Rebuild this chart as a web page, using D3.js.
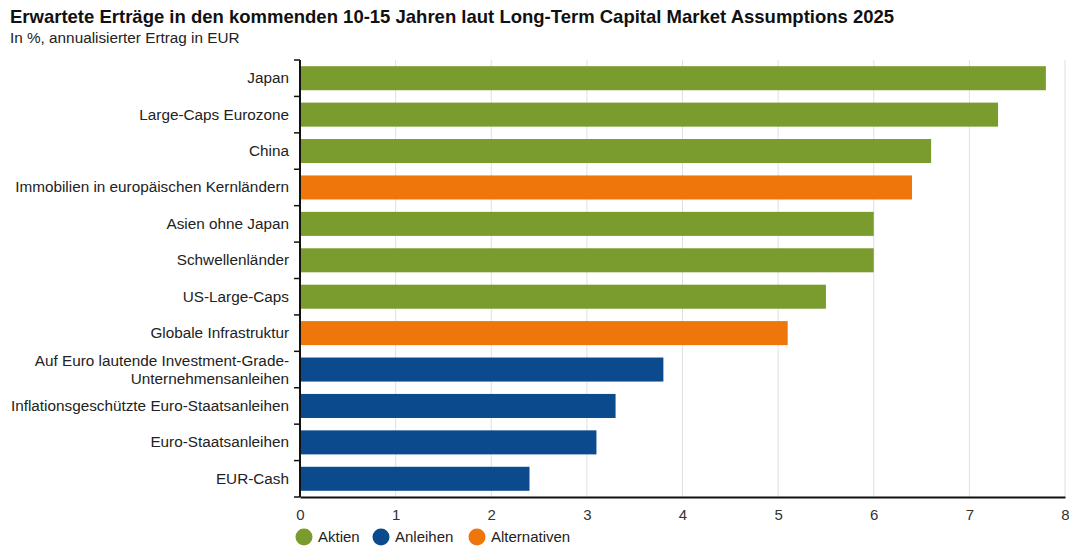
<!DOCTYPE html>
<html>
<head>
<meta charset="utf-8">
<script src="https://cdn.jsdelivr.net/npm/d3@7"></script>
<style>
  body { margin: 0; background: #fff; }
  svg text { font-family: "Liberation Sans", Arial, sans-serif; }
</style>
</head>
<body>
<div id="chart"></div>
<script>
// Data
const categories = [
    "Japan",
    "Large-Caps Eurozone",
    "China",
    "Immobilien in europäischen Kernländern",
    "Asien ohne Japan",
    "Schwellenländer",
    "US-Large-Caps",
    "Globale Infrastruktur",
    "Auf Euro lautende Investment-Grade-\nUnternehmensanleihen",
    "Inflationsgeschützte Euro-Staatsanleihen",
    "Euro-Staatsanleihen",
    "EUR-Cash"
];
const values = [7.8, 7.3, 6.6, 6.4, 6.0, 6.0, 5.5, 5.1, 3.8, 3.3, 3.1, 2.4];
const groups = ["Aktien", "Aktien", "Aktien", "Alternativen", "Aktien", "Aktien", "Aktien",
    "Alternativen", "Anleihen", "Anleihen", "Anleihen", "Anleihen"];
const legendItems = ["Aktien", "Anleihen", "Alternativen"];
const xTicks = [0, 1, 2, 3, 4, 5, 6, 7, 8];

const width = 1069;
const height = 548;
const margin = { top: 60, right: 4, bottom: 51, left: 300 }; // plot area

const color = d3.scaleOrdinal()
    .domain(legendItems)
    .range(["#7a9c2e", "#0b4a8d", "#ee760b"]);

const svg = d3.select("#chart")
    .append("svg")
    .attr("width", width)
    .attr("height", height);

// Title + subtitle
svg.append("text")
    .attr("x", 10).attr("y", 23)
    .attr("font-size", "18.5px")
    .attr("font-weight", "bold")
    .attr("fill", "#111")
    .text("Erwartete Erträge in den kommenden 10-15 Jahren laut Long-Term Capital Market Assumptions 2025");

svg.append("text")
    .attr("x", 10).attr("y", 43)
    .attr("font-size", "15.3px")
    .attr("fill", "#222")
    .text("In %, annualisierter Ertrag in EUR");

// Scales
const xScale = d3.scaleLinear()
    .domain([0, 8])
    .range([margin.left, width - margin.right]);

const yScale = d3.scaleBand()
    .domain(categories)
    .range([margin.top, height - margin.bottom])
    .paddingInner(0.34)
    .paddingOuter(0.17);

const yBottom = height - margin.bottom;

// Grid lines
svg.append("g")
    .selectAll("line")
    .data(xTicks.slice(1))
    .join("line")
    .attr("x1", (d) => xScale(d))
    .attr("x2", (d) => xScale(d))
    .attr("y1", margin.top)
    .attr("y2", yBottom)
    .attr("stroke", "#e0e0e0")
    .attr("stroke-width", 1);

// Bars
svg.selectAll(".bar")
    .data(categories)
    .join("rect")
    .attr("class", "bar")
    .attr("x", xScale(0))
    .attr("y", (d) => yScale(d))
    .attr("width", (d, i) => xScale(values[i]) - xScale(0))
    .attr("height", yScale.bandwidth())
    .attr("fill", (d, i) => color(groups[i]));

// X axis
const xAxis = svg.append("g")
    .attr("transform", `translate(0,${yBottom})`)
    .call(d3.axisBottom(xScale).tickValues(xTicks).tickSize(0).tickPadding(12));
xAxis.select(".domain").attr("stroke", "#111").attr("stroke-width", 2);
xAxis.selectAll("text")
    .attr("font-size", "15px")
    .attr("fill", "#333")
    .style("font-family", '"Liberation Sans", Arial, sans-serif');

// Y axis: line + ticks at band boundaries
const step = yScale.step();
const boundaries = categories.map((d) => yScale(d) - step * yScale.paddingInner() / 2);
boundaries.push(yBottom);

svg.append("line")
    .attr("x1", xScale(0)).attr("x2", xScale(0))
    .attr("y1", margin.top).attr("y2", yBottom)
    .attr("stroke", "#111").attr("stroke-width", 2);

svg.append("g")
    .selectAll("line")
    .data(boundaries)
    .join("line")
    .attr("x1", xScale(0) - 6)
    .attr("x2", xScale(0))
    .attr("y1", (d) => d)
    .attr("y2", (d) => d)
    .attr("stroke", "#111")
    .attr("stroke-width", 1.5);

// Category labels (supports two-line labels)
const labels = svg.append("g")
    .selectAll("text")
    .data(categories)
    .join("text")
    .attr("text-anchor", "end")
    .attr("font-size", "15.3px")
    .attr("fill", "#222");

labels.each(function (d) {
    const lines = d.split("\n");
    const cy = yScale(d) + yScale.bandwidth() / 2;
    const lh = 18;
    const t = d3.select(this);
    lines.forEach((line, k) => {
        t.append("tspan")
            .attr("x", xScale(0) - 11)
            .attr("y", cy + 5 + (k - (lines.length - 1) / 2) * lh)
            .text(line);
    });
});

// Legend
const legend = svg.append("g").attr("transform", `translate(0,${height - 11})`);
const legendX = [304, 381, 477];
legendItems.forEach((name, i) => {
    legend.append("circle")
        .attr("cx", legendX[i])
        .attr("cy", 0)
        .attr("r", 8.5)
        .attr("fill", color(name));
    legend.append("text")
        .attr("x", legendX[i] + 14)
        .attr("y", 5)
        .attr("font-size", "15px")
        .attr("fill", "#222")
        .text(name);
});
</script>
</body>
</html>
